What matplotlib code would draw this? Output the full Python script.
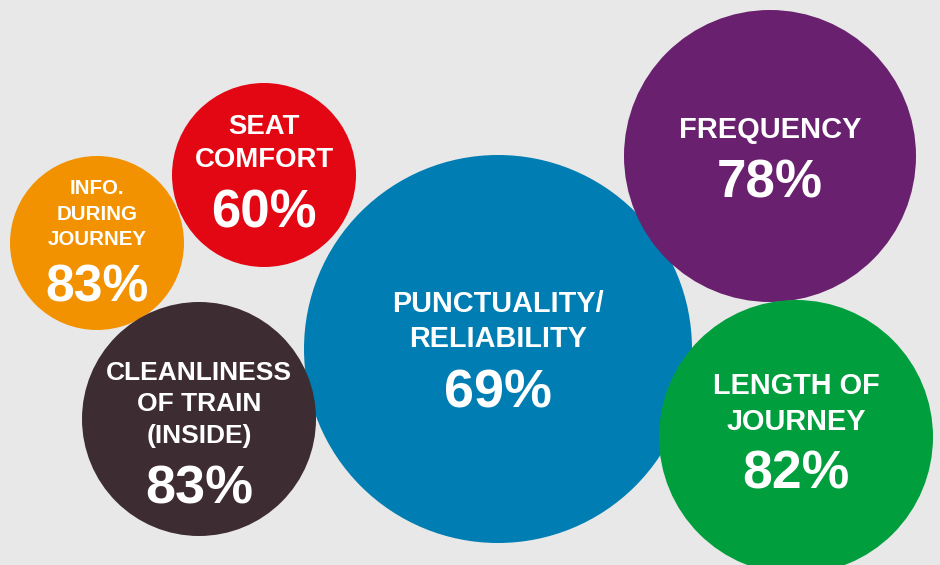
import matplotlib.pyplot as plt
from matplotlib.patches import Circle

# data
labels = [
    "INFO.\nDURING\nJOURNEY",
    "SEAT\nCOMFORT",
    "PUNCTUALITY/\nRELIABILITY",
    "FREQUENCY",
    "LENGTH OF\nJOURNEY",
    "CLEANLINESS\nOF TRAIN\n(INSIDE)",
]
values = [83, 60, 69, 78, 82, 83]
colors = ["#F39200", "#E30613", "#007DB2", "#68206F", "#009E3D", "#3D2D32"]

# layout (pixels, y down)
cx = [97, 264, 498, 770, 796, 199]
cy = [243, 175, 349, 156, 437, 419]
radius = [87, 92, 194, 146, 137, 117]
label_size = [14.8, 19.8, 20.8, 20.9, 20.8, 19.0]
label_first = [194, 133.5, 312, 137.5, 393.5, 379.5]
label_step = [25.5, 33.5, 35, 0, 36, 31.7]
value_size = [37.2, 38, 38.8, 38.2, 38.5, 38.8]
value_base = [301, 228, 407, 197, 488.5, 503.5]

plt.rcParams['font.family'] = ['Liberation Sans', 'DejaVu Sans']

fig = plt.figure(figsize=(9.4, 5.65), dpi=100)
fig.patch.set_facecolor("#E8E8E8")
ax = fig.add_axes([0, 0, 1, 1])
ax.set_facecolor("#E8E8E8")
ax.set_xlim(0, 940)
ax.set_ylim(565, 0)
ax.set_aspect('equal')
ax.axis('off')

for i in range(len(labels)):
    ax.add_patch(Circle((cx[i], cy[i]), radius[i], color=colors[i], lw=0))
    for j, line in enumerate(labels[i].split("\n")):
        ax.text(cx[i], label_first[i] + j * label_step[i], line, color="white",
                fontsize=label_size[i], fontweight='bold', ha='center', va='baseline')
    ax.text(cx[i], value_base[i], f"{values[i]}%", color="white",
            fontsize=value_size[i], fontweight='bold', ha='center', va='baseline')

fig.savefig("out.png", dpi=100, facecolor=fig.get_facecolor())
